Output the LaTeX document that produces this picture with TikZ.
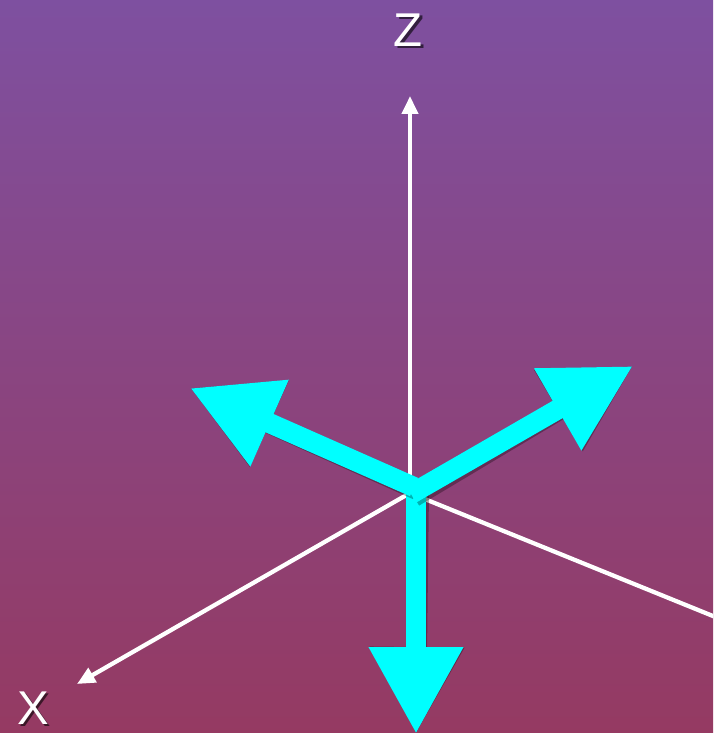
\documentclass[tikz,border=0pt]{standalone}
\usepackage{fontspec}
\setmainfont{Liberation Sans}
\usetikzlibrary{arrows.meta}

\definecolor{bgtop}{RGB}{126,80,160}
\definecolor{bgbot}{RGB}{149,58,98}
\definecolor{aqua}{RGB}{0,255,255}

\tikzset{
  axis/.style={white, line width=0.085cm},
  vec/.style={aqua, line width=0.4cm, -{Triangle[width=1.78cm,length=1.74cm]}},
  vecshadow/.style={black, opacity=0.3, line width=0.4cm, -{Triangle[width=1.78cm,length=1.74cm]}, shift={(3,3)}},
  lbl/.style={white, inner sep=0pt, font=\fontsize{27}{30}\selectfont},
  lblshadow/.style={black, opacity=0.6, inner sep=0pt, font=\fontsize{27}{30}\selectfont}
}

\begin{document}
\begin{tikzpicture}[x=0.02cm, y=-0.02cm]
  % Background
  \useasboundingbox (0,0) rectangle (713,733);
  \clip (0,0) rectangle (713,733);
  \shade[top color=bgtop, bottom color=bgbot] (0,0) rectangle (713,733);

  % Points
  \coordinate (O) at (410,493);
  \coordinate (ztip) at (410,96);
  \coordinate (xtip) at (77,684);
  \coordinate (yend) at (740,627);
  \coordinate (vleft) at (190,388);
  \coordinate (vright) at (633,366);
  \coordinate (vdown) at (416,734);

  % Axes
  \draw[axis, -{Triangle[width=0.32cm,length=0.36cm]}] (O) -- (ztip);
  \draw[axis, -{Triangle[width=0.32cm,length=0.36cm]}] (O) -- (xtip);
  \draw[axis] (O) -- (yend);

  % Labels
  \node[lblshadow] (zshadow) at (410.5,32.5) {Z};
  \node[lbl] (zlabel) at (408,30) {Z};
  \node[lblshadow] (xshadow) at (35.5,710.5) {X};
  \node[lbl] (xlabel) at (33,708) {X};

  % Vectors, each with its shadow
  \draw[vecshadow] (416,488) -- (vdown);
  \draw[vec] (416,488) -- (vdown);
  \draw[vecshadow] (414,487) -- (vleft);
  \draw[vec] (414,487) -- (vleft);
  \draw[vecshadow] (411,494) -- (vright);
  \draw[vec] (411,494) -- (vright);
\end{tikzpicture}
\end{document}
